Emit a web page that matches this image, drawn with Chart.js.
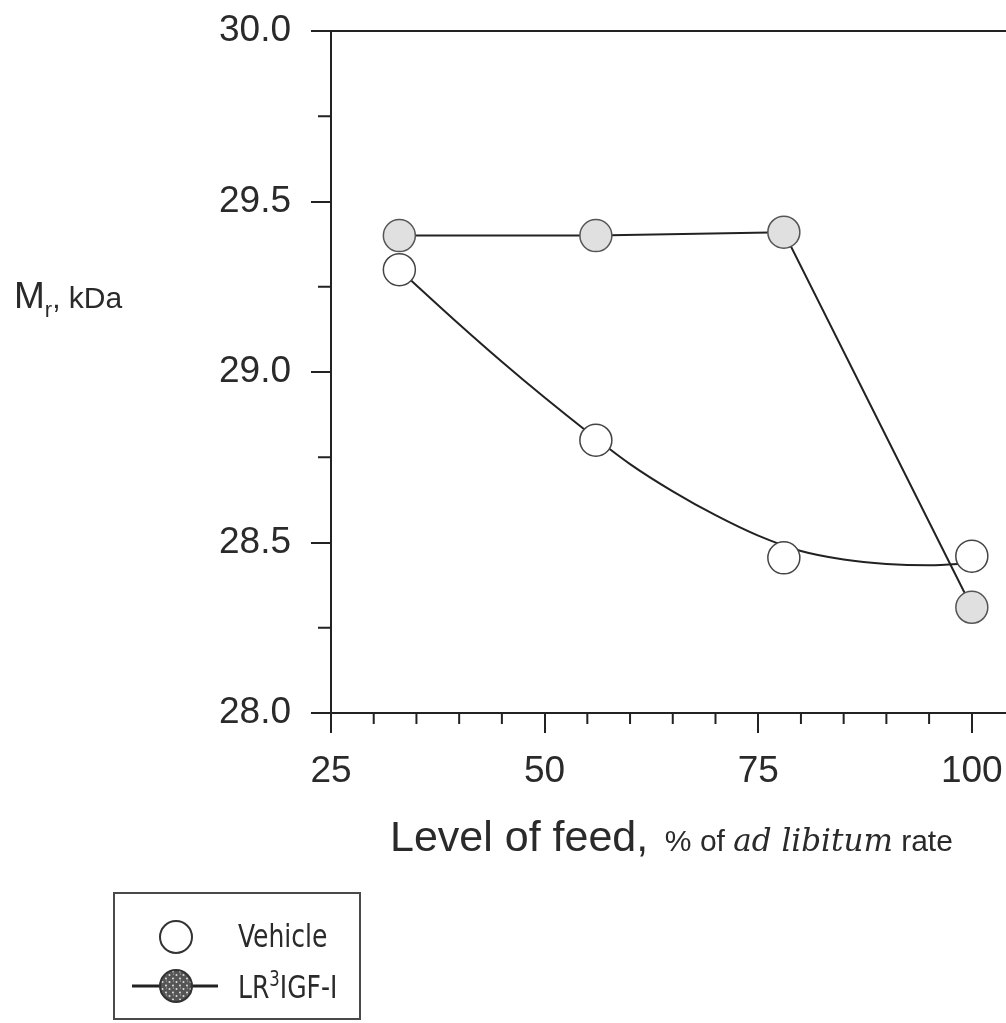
<!DOCTYPE html>
<html>
<head>
<meta charset="utf-8">
<script src="https://cdn.jsdelivr.net/npm/chart.js@4.4.0/dist/chart.umd.min.js"></script>
<style>
  html, body { margin: 0; padding: 0; background: #fff; overflow: hidden; }
  #wrap { position: relative; width: 1006px; height: 1023px; }
  #chart { position: absolute; left: 0; top: 0; }
  .lbl { position: absolute; white-space: nowrap; color: #2a2a2a; font-family: "Liberation Sans", Arial, sans-serif; line-height: 1; }
  .narrow { font-family: "Liberation Sans Narrow", "DejaVu Sans Condensed", "Liberation Sans", sans-serif; transform: scaleX(0.87); transform-origin: left top; }
  #legend { position: absolute; left: 113px; top: 892px; width: 244px; height: 124px; border: 2px solid #4a4a4a; }
</style>
</head>
<body>
<div id="wrap">
  <canvas id="chart" width="1006" height="1023"></canvas>

  <div class="lbl" style="left:14px; top:277px; font-size:37px;">M<span style="position:relative; top:9px; font-size:22px;">r</span><span style="font-size:30px;">, kDa</span></div>

  <div class="lbl" style="left:390px; top:815px; font-size:43px;">Level of feed,<span style="font-size:30px;">&nbsp; % of <i style="font-family:'DejaVu Serif', serif; font-size:31px;">ad libitum</i> rate</span></div>

  <div id="legend"></div>
  <svg style="position:absolute; left:0; top:0;" width="1006" height="1023">
    <defs>
      <pattern id="speck" width="7" height="7" patternUnits="userSpaceOnUse">
        <rect width="7" height="7" fill="#555"/>
        <circle cx="1.5" cy="2" r="1" fill="#ddd"/>
        <circle cx="5" cy="5.5" r="0.9" fill="#eee"/>
        <circle cx="5.5" cy="1" r="0.6" fill="#bbb"/>
      </pattern>
    </defs>
    <circle cx="176" cy="937" r="16" fill="#fff" stroke="#333" stroke-width="2"/>
    <line x1="132" y1="986" x2="218" y2="986" stroke="#222" stroke-width="3"/>
    <circle cx="176" cy="986" r="16" fill="url(#speck)" stroke="#333" stroke-width="2"/>
  </svg>
  <div class="lbl narrow" style="left:238px; top:920px; font-size:32px;">Vehicle</div>
  <div class="lbl narrow" style="left:238px; top:971px; font-size:32px;">LR<span style="position:relative; top:-12px; font-size:21px;">3</span>IGF-I</div>
</div>

<script>
// level of feed, % of ad libitum rate
const feedLevels = [33, 56, 78, 100];
const vehicleMr = [29.30, 28.80, 28.455, 28.46];
const lr3Mr = [29.40, 29.40, 29.41, 28.31];

// fitted curve through the vehicle points
const fitX = [33, 40, 45, 50, 55, 60, 65, 70, 75, 80, 85, 90, 95, 100];
const fitY = [29.30, 29.14, 29.03, 28.925, 28.825, 28.73, 28.65, 28.58, 28.52, 28.475, 28.45, 28.437, 28.433, 28.44];

const xTicks = [25, 50, 75, 100];
const yTicks = [28.0, 28.5, 29.0, 29.5, 30.0];
const xMinorStep = 5;
const yMinorStep = 0.25;

const ink = '#222';
const textInk = '#2a2a2a';

const pts = (xs, ys) => xs.map((x, i) => ({ x, y: ys[i] }));

// minor ticks + top frame line
const frameExtras = {
  id: 'frameExtras',
  afterDraw(chart) {
    const { ctx, chartArea: a, scales: { x, y } } = chart;
    ctx.save();
    ctx.strokeStyle = ink;
    ctx.lineWidth = 2;
    ctx.beginPath();
    ctx.moveTo(a.left - 20, a.top);
    ctx.lineTo(a.right, a.top);
    for (let v = x.min; v <= x.max + 1e-6; v += xMinorStep) {
      if (xTicks.includes(v)) continue;
      const px = x.getPixelForValue(v);
      ctx.moveTo(px, a.bottom);
      ctx.lineTo(px, a.bottom + 11);
    }
    for (let v = y.min; v <= y.max + 1e-6; v += yMinorStep) {
      if (yTicks.some(t => Math.abs(t - v) < 1e-6)) continue;
      const py = y.getPixelForValue(v);
      ctx.moveTo(a.left, py);
      ctx.lineTo(a.left - 13, py);
    }
    ctx.stroke();
    ctx.restore();
  }
};

const noOverflow = s => { s.paddingTop = 0; s.paddingBottom = 0; s.paddingLeft = 0; s.paddingRight = 0; };

new Chart(document.getElementById('chart'), {
  type: 'scatter',
  data: {
    datasets: [
      {
        label: 'Vehicle',
        data: pts(feedLevels, vehicleMr),
        showLine: false,
        pointRadius: 16,
        pointHoverRadius: 16,
        pointBackgroundColor: '#fff',
        pointBorderColor: '#444',
        pointBorderWidth: 1.5
      },
      {
        label: 'LR3IGF-I',
        data: pts(feedLevels, lr3Mr),
        showLine: true,
        borderColor: ink,
        borderWidth: 2,
        pointRadius: 16,
        pointHoverRadius: 16,
        pointBackgroundColor: '#e0e0e0',
        pointBorderColor: '#555',
        pointBorderWidth: 1.5
      },
      {
        label: 'fit',
        data: pts(fitX, fitY),
        showLine: true,
        borderColor: ink,
        borderWidth: 2,
        pointRadius: 0,
        cubicInterpolationMode: 'monotone'
      }
    ]
  },
  options: {
    responsive: false,
    animation: false,
    events: [],
    layout: { autoPadding: false, padding: { top: 31, right: 0, bottom: 0, left: 0 } },
    plugins: { legend: { display: false }, tooltip: { enabled: false } },
    scales: {
      x: {
        type: 'linear',
        min: 25,
        max: 104,
        afterFit(s) { s.height = 310; noOverflow(s); },
        afterBuildTicks(s) { s.ticks = xTicks.map(v => ({ value: v })); },
        border: { display: true, color: ink, width: 2 },
        grid: { drawOnChartArea: false, drawTicks: true, tickLength: 20, color: ink, lineWidth: 2 },
        ticks: {
          padding: 17,
          color: textInk,
          font: { family: '"Liberation Sans", Arial, sans-serif', size: 37 },
          callback: v => String(v)
        }
      },
      y: {
        type: 'linear',
        min: 28,
        max: 30,
        afterFit(s) { s.width = 331; noOverflow(s); },
        afterBuildTicks(s) { s.ticks = yTicks.map(v => ({ value: v })); },
        border: { display: true, color: ink, width: 2 },
        grid: { drawOnChartArea: false, drawTicks: true, tickLength: 20, color: ink, lineWidth: 2 },
        ticks: {
          padding: 20,
          color: textInk,
          font: { family: '"Liberation Sans", Arial, sans-serif', size: 37 },
          callback: v => v.toFixed(1)
        }
      }
    }
  },
  plugins: [frameExtras]
});
</script>
</body>
</html>
